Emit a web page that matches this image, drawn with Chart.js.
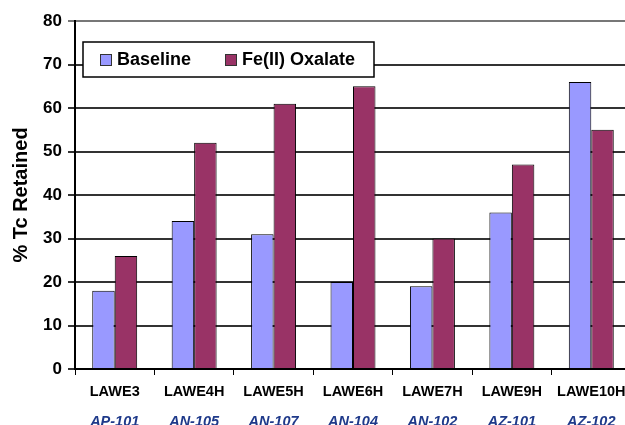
<!DOCTYPE html>
<html>
<head>
<meta charset="utf-8">
<script src="https://cdn.jsdelivr.net/npm/chart.js@4/dist/chart.umd.min.js"></script>
<style>
  html, body { margin: 0; padding: 0; background: #fff; overflow: hidden; }
  #wrap { width: 640px; height: 425px; }
</style>
</head>
<body>
<div id="wrap"><canvas id="tc"></canvas></div>
<script>
var glassNames = ['LAWE3', 'LAWE4H', 'LAWE5H', 'LAWE6H', 'LAWE7H', 'LAWE9H', 'LAWE10H'];
var tankNames = ['AP-101', 'AN-105', 'AN-107', 'AN-104', 'AN-102', 'AZ-101', 'AZ-102'];
var baseline = [18, 34, 31, 20, 19, 36, 66];
var feOxalate = [26, 52, 61, 65, 30, 47, 55];
var yTicks = [0, 10, 20, 30, 40, 50, 60, 70, 80];

var fontFam = 'Arial, "Liberation Sans", sans-serif';

// legend box floating inside the plot, drawn over the grid
var boxLegend = {
    id: 'boxLegend',
    afterDraw: function (chart) {
        var ctx = chart.ctx;
        ctx.save();
        ctx.fillStyle = '#fff';
        ctx.fillRect(83, 42, 291, 35);
        ctx.strokeStyle = '#000';
        ctx.lineWidth = 1.5;
        ctx.strokeRect(83, 42, 291, 35);
        ctx.font = 'bold 18px ' + fontFam;
        ctx.textBaseline = 'middle';
        var xs = [100, 225];
        chart.data.datasets.forEach(function (ds, i) {
            ctx.fillStyle = ds.backgroundColor;
            ctx.fillRect(xs[i], 54, 11, 11);
            ctx.lineWidth = 1;
            ctx.strokeStyle = '#333';
            ctx.strokeRect(xs[i] + 0.5, 54.5, 11, 11);
            ctx.fillStyle = '#000';
            ctx.fillText(ds.label, xs[i] + 17, 60);
        });
        ctx.restore();
    }
};

var ctx = document.getElementById('tc').getContext('2d');
var chart = new Chart(ctx, {
    type: 'bar',
    data: {
        labels: glassNames,
        datasets: [
            {
                label: 'Baseline',
                data: baseline,
                backgroundColor: '#9999ff',
                borderColor: '#000',
                borderWidth: 1,
                xAxisID: 'x'
            },
            {
                label: 'Fe(II) Oxalate',
                data: feOxalate,
                backgroundColor: '#993366',
                borderColor: '#000',
                borderWidth: 1,
                xAxisID: 'x'
            }
        ]
    },
    options: {
        responsive: true,
        maintainAspectRatio: false,
        animation: false,
        layout: { padding: { top: 21, right: 9, bottom: 0, left: 0 } },
        categoryPercentage: 0.566,
        barPercentage: 1.0,
        plugins: {
            legend: { display: false },
            tooltip: { enabled: false }
        },
        scales: {
            x: {
                type: 'category',
                position: 'bottom',
                grid: {
                    drawOnChartArea: false,
                    drawTicks: true,
                    tickLength: 6,
                    color: '#000',
                    offset: true
                },
                border: { display: true, color: '#000', width: 2 },
                ticks: {
                    color: '#000',
                    font: { family: fontFam, size: 14.5, weight: 'bold' },
                    padding: 8,
                    maxRotation: 0,
                    autoSkip: false
                },
                afterFit: function (s) { s.height = 28; }
            },
            x2: {
                type: 'category',
                position: 'bottom',
                labels: tankNames,
                offset: true,
                grid: { display: false, drawTicks: false },
                border: { display: false },
                ticks: {
                    color: '#1f3a8a',
                    font: { family: fontFam, size: 14.5, weight: 'bold', style: 'italic' },
                    padding: 16,
                    maxRotation: 0,
                    autoSkip: false
                },
                afterFit: function (s) { s.height = 28; }
            },
            y: {
                min: 0,
                max: 80,
                afterBuildTicks: function (s) {
                    s.ticks = yTicks.map(function (v) { return { value: v }; });
                },
                grid: {
                    color: function (c) { return c.tick && c.tick.value === 80 ? '#777' : '#333'; },
                    lineWidth: 2,
                    tickLength: 7,
                    drawTicks: true
                },
                border: { display: true, color: '#000', width: 2 },
                ticks: {
                    color: '#000',
                    font: { family: fontFam, size: 17, weight: 'bold' },
                    padding: 6
                },
                title: {
                    display: true,
                    text: '% Tc Retained',
                    color: '#000',
                    font: { family: fontFam, size: 20, weight: 'bold' },
                    padding: { top: 9, bottom: 0 }
                },
                afterFit: function (s) { s.width = 75; }
            }
        }
    },
    plugins: [boxLegend]
});
</script>
</body>
</html>
